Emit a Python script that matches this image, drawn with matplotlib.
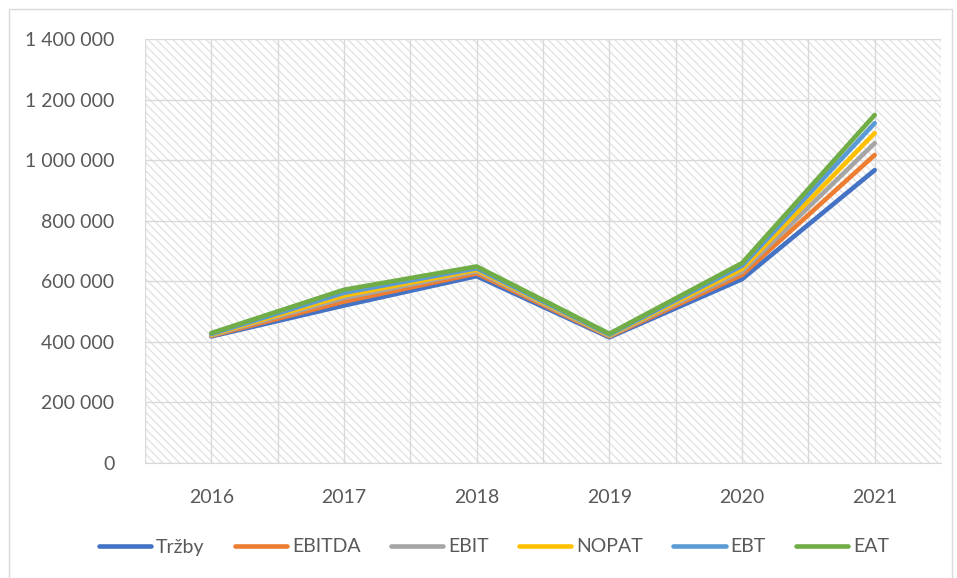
import matplotlib.pyplot as plt
from matplotlib.patches import Rectangle
from matplotlib.ticker import FuncFormatter, MultipleLocator

years = ["2016", "2017", "2018", "2019", "2020", "2021"]
trzby = [418000, 520000, 617000, 415000, 607000, 967000]
ebitda = [420000, 533000, 626000, 418000, 621000, 1017000]
ebit = [422000, 545000, 633000, 420000, 632000, 1056000]
nopat = [424000, 553000, 638000, 422000, 641000, 1089000]
ebt = [426000, 562000, 643000, 424000, 651000, 1122000]
eat = [429000, 572000, 649000, 427000, 660000, 1149000]

series = [
    ("Tržby", trzby, "#4472C4"),
    ("EBITDA", ebitda, "#ED7D31"),
    ("EBIT", ebit, "#A5A5A5"),
    ("NOPAT", nopat, "#FFC000"),
    ("EBT", ebt, "#5B9BD5"),
    ("EAT", eat, "#70AD47"),
]

plt.rcParams["font.family"] = ["Lato", "DejaVu Sans"]
txt = "#595959"
grid = "#d9d9d9"
fs = 14

fig = plt.figure(figsize=(9.57, 5.78), dpi=100)
fig.patches.append(Rectangle((9 / 957, -0.01), 943 / 957, 1 - 9 / 578 + 0.01,
                             transform=fig.transFigure, fill=False,
                             edgecolor=grid, linewidth=1))
ax = fig.add_axes([145 / 957, (578 - 463) / 578, (941 - 145) / 957, (463 - 39) / 578])

# hatched plot area
plt.rcParams["hatch.linewidth"] = 1.0
ax.add_patch(Rectangle((0, 0), 1, 1, transform=ax.transAxes, facecolor="white",
                       edgecolor="#e3e3e3", hatch="\\\\\\\\", linewidth=0, zorder=0))

x = list(range(len(years)))
for name, vals, col in series:
    ax.plot(x, vals, color=col, linewidth=3.3, label=name,
            solid_capstyle="round", solid_joinstyle="round", zorder=3)

ax.set_xlim(-0.5, len(years) - 0.5)
ax.set_ylim(0, 1400000)
ax.yaxis.set_major_locator(MultipleLocator(200000))
ax.yaxis.set_major_formatter(FuncFormatter(lambda v, p: f"{int(v):,}".replace(",", " ")))
ax.set_xticks(x)
ax.set_xticklabels(years)
ax.xaxis.set_minor_locator(MultipleLocator(0.5))
ax.grid(True, which="both", axis="x", color=grid, linewidth=1, zorder=1)
ax.grid(True, which="major", axis="y", color=grid, linewidth=1, zorder=1)
ax.set_axisbelow(True)

for s in ["top", "right", "left"]:
    ax.spines[s].set_visible(False)
ax.spines["bottom"].set_color(grid)
ax.tick_params(which="both", length=0)
ax.tick_params(axis="y", pad=22, labelsize=fs, labelcolor=txt)
ax.tick_params(axis="x", pad=19, labelsize=fs, labelcolor=txt)

fig.legend(loc="center", bbox_to_anchor=(494 / 957, 1 - 547 / 578), ncol=6, frameon=False,
           fontsize=fs, labelcolor=txt, handlelength=2.7, handletextpad=0.25,
           columnspacing=1.55)

fig.savefig("out.png", dpi=100)
